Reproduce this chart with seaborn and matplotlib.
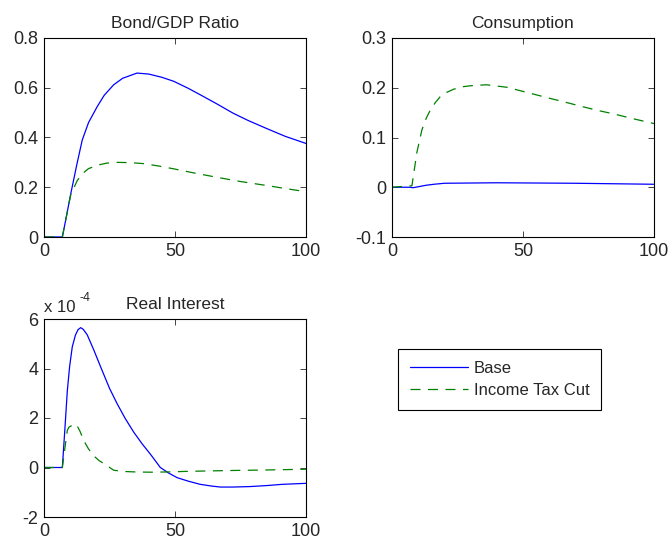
import numpy as np
import pandas as pd
import matplotlib
matplotlib.use("Agg")
import matplotlib.pyplot as plt
import seaborn as sns

# ---------------- data ----------------
bond_t_base = [0, 7, 8.5, 10.2, 12.5, 14.6, 17, 20.3, 23, 26.6, 30, 35.5, 40, 45, 49.5, 55, 59.6, 66, 72.3, 78, 85, 92, 100]
bond_base = [0, 0, 0.08, 0.173, 0.29, 0.39, 0.46, 0.524, 0.57, 0.612, 0.638, 0.659, 0.655, 0.642, 0.626, 0.598, 0.572, 0.535, 0.497, 0.468, 0.436, 0.405, 0.376]
bond_t_tax = [0, 7, 8.5, 10.2, 12.7, 14.6, 17, 20.9, 24, 28, 33, 38, 44, 49.5, 57, 66, 75, 85, 92, 100]
bond_tax = [0, 0, 0.08, 0.17, 0.227, 0.254, 0.275, 0.29, 0.297, 0.30, 0.299, 0.295, 0.285, 0.274, 0.258, 0.24, 0.223, 0.207, 0.195, 0.182]

cons_t_base = [0, 7, 8, 10, 13, 16, 20, 30, 40, 55, 70, 85, 100]
cons_base = [0, 0, -0.001, 0.001, 0.004, 0.006, 0.008, 0.0085, 0.009, 0.0085, 0.008, 0.007, 0.006]
cons_t_tax = [0, 7.6, 9.5, 11.4, 13, 14.6, 16.5, 18.4, 21, 23.5, 27, 29.9, 36, 43.8, 52.7, 60, 65.4, 72, 78, 85, 91, 100]
cons_tax = [0, 0.003, 0.07, 0.115, 0.138, 0.155, 0.17, 0.182, 0.191, 0.197, 0.202, 0.204, 0.206, 0.201, 0.189, 0.179, 0.172, 0.163, 0.155, 0.147, 0.139, 0.128]

rate_t_base = [0, 7, 8, 8.9, 9.8, 10.8, 12, 13, 14, 15, 16.5, 19, 21.6, 25, 27.9, 31, 34.3, 37.5, 40.6, 44.4, 47.5, 50.8, 55, 59.6, 64, 67.3, 72, 78.7, 85, 91, 100]
rate_base = [0, 0, 1.6, 3.1, 4.1, 4.88, 5.35, 5.57, 5.65, 5.58, 5.36, 4.75, 4.07, 3.2, 2.58, 1.98, 1.42, 0.95, 0.54, 0.0, -0.22, -0.41, -0.55, -0.68, -0.75, -0.79, -0.79, -0.77, -0.73, -0.68, -0.64]
rate_t_tax = [0, 7, 8, 8.9, 9.5, 11, 12.4, 13.8, 15.2, 17, 19, 21, 22.8, 24.5, 26.6, 30.4, 35, 40.6, 47, 53.3, 62, 72.3, 85, 100]
rate_tax = [0, 0, 0.8, 1.5, 1.63, 1.72, 1.74, 1.45, 1.08, 0.75, 0.47, 0.28, 0.16, 0.04, -0.11, -0.16, -0.18, -0.19, -0.18, -0.16, -0.14, -0.12, -0.1, -0.07]

titles = ["Bond/GDP Ratio", "Consumption", "Real Interest"]
labels = ["Base", "Income Tax Cut"]
y_ticks = [[0, 0.2, 0.4, 0.6, 0.8], [-0.1, 0, 0.1, 0.2, 0.3], [-2, 0, 2, 4, 6]]
y_lims = [(0, 0.8), (-0.1, 0.3), (-2, 6)]
x_ticks = [0, 50, 100]

# ---------------- style ----------------
sns.set_style("white")
plt.rcParams["font.family"] = ["Liberation Sans", "DejaVu Sans"]
plt.rcParams["axes.edgecolor"] = "black"
plt.rcParams["axes.linewidth"] = 0.8

fig = plt.figure(figsize=(6.68, 5.45), dpi=100)
positions = [
    [44 / 668, 1 - 237 / 545, 262 / 668, 199 / 545],
    [392 / 668, 1 - 237 / 545, 262 / 668, 199 / 545],
    [44 / 668, 1 - 517 / 545, 262 / 668, 198 / 545],
]
series = [
    (bond_t_base, bond_base, bond_t_tax, bond_tax),
    (cons_t_base, cons_base, cons_t_tax, cons_tax),
    (rate_t_base, rate_base, rate_t_tax, rate_tax),
]

base_color = "#0000FF"
tax_color = "#008000"
handles = None
for i in range(3):
    ax = fig.add_axes(positions[i])
    tb, vb, tt, vt = series[i]
    df_b = pd.DataFrame({"t": tb, "v": vb})
    df_t = pd.DataFrame({"t": tt, "v": vt})
    sns.lineplot(data=df_b, x="t", y="v", ax=ax, color=base_color, lw=0.9, label=labels[0], legend=False)
    sns.lineplot(data=df_t, x="t", y="v", ax=ax, color=tax_color, lw=0.9, dashes=False,
                 linestyle=(0, (8, 6)), label=labels[1], legend=False)
    ax.set_xlim(0, 100)
    ax.set_ylim(*y_lims[i])
    ax.set_xticks(x_ticks)
    ax.set_yticks(y_ticks[i])
    ax.set_xticklabels([str(v) for v in x_ticks])
    ax.set_yticklabels([("%g" % v) for v in y_ticks[i]])
    ax.set_xlabel("")
    ax.set_ylabel("")
    ax.tick_params(direction="in", length=4, width=0.6, labelsize=13, top=True, right=True,
                   bottom=True, left=True, pad=4)
    ax.set_title(titles[i], fontsize=12.5, pad=7)
    for s in ax.spines.values():
        s.set_visible(True)
        s.set_color("black")
        s.set_linewidth(0.8)
    if i == 2:
        ax.text(0.0, 1.02, "x 10", transform=ax.transAxes, fontsize=12, ha="left", va="bottom")
        ax.text(0.135, 1.075, "-4", transform=ax.transAxes, fontsize=9, ha="left", va="bottom")
    handles = ax.get_lines()[:2]

leg = fig.legend(handles, labels, loc="upper left", bbox_to_anchor=(398 / 668, 1 - 349 / 545),
                 fontsize=12, frameon=True, fancybox=False, edgecolor="black", framealpha=1,
                 handlelength=3.5, handletextpad=0.35, borderpad=0.7, labelspacing=0.45,
                 borderaxespad=0)
leg.get_frame().set_linewidth(0.8)

fig.savefig("out.png", dpi=100)
